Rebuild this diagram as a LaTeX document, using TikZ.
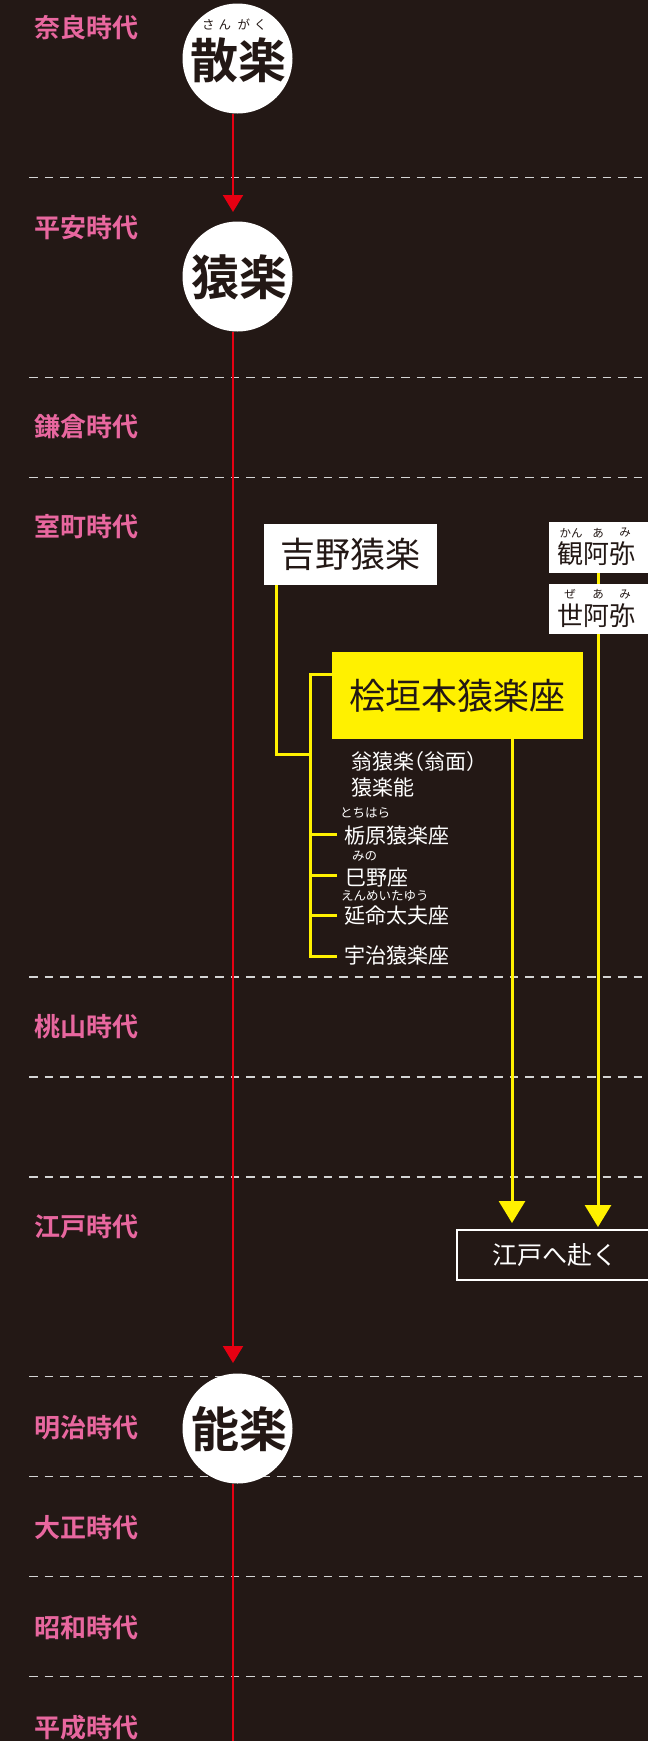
\documentclass[tikz,border=0pt]{standalone}
\usepackage{fontspec}
\setmainfont{Noto Sans CJK JP}[BoldFont={Noto Sans CJK JP Bold}]
\usetikzlibrary{arrows.meta}
\definecolor{bgc}{HTML}{231815}
\definecolor{pinkc}{HTML}{E8679F}
\definecolor{redc}{HTML}{E60012}
\definecolor{yelc}{HTML}{FFF100}
\definecolor{dashc}{HTML}{D4D4D4}
\pgfdeclarelayer{back}
\pgfdeclarelayer{lines}
\pgfsetlayers{back,lines,main}
\begin{document}
\begin{tikzpicture}[x=1pt,y=-1pt,
  era/.style={anchor=west, inner sep=0, text=pinkc, font=\fontsize{26}{30}\selectfont\bfseries},
  sepline/.style={draw=dashc, line width=1.5pt, dash pattern=on 8.5pt off 7pt},
  eracircle/.style={circle, fill=white, minimum size=110pt, inner sep=0},
  bigtext/.style={inner sep=0, text=bgc, font=\fontsize{48}{52}\selectfont\bfseries},
  rubytext/.style={inner sep=0, font=\fontsize{12.5}{14}\selectfont},
  rubysmall/.style={inner sep=0, text=bgc, font=\fontsize{11.5}{13}\selectfont},
  redline/.style={draw=redc, line width=2pt},
  redarrow/.style={redline, -{Triangle[width=20pt,length=17pt]}},
  yline/.style={draw=yelc, line width=3pt},
  yarrow/.style={yline, -{Triangle[width=26pt,length=22pt]}},
  wbox/.style={fill=white, inner sep=0, anchor=north west},
  persontext/.style={anchor=west, inner sep=0, text=bgc, font=\fontsize{26}{30}\selectfont},
  subtext/.style={anchor=west, inner sep=0, text=white, font=\fontsize{21}{24}\selectfont},
  ]
\useasboundingbox (0,0) rectangle (648,1741);
\clip (0,0) rectangle (648,1741);
\begin{pgfonlayer}{back}
\fill[bgc] (0,0) rectangle (648,1741);
\foreach \yy in {177.5,377.5,477.5,977,1077,1177,1376.5,1476.5,1576.5,1676.5}
  \draw[sepline] (29,\yy) -- (652,\yy);
\end{pgfonlayer}

% era labels
\node[era] (e01) at (34,28) {奈良時代};
\node[era] (e02) at (34,228) {平安時代};
\node[era] (e03) at (34,427) {鎌倉時代};
\node[era] (e04) at (34,527) {室町時代};
\node[era] (e05) at (34,1027) {桃山時代};
\node[era] (e06) at (34,1227) {江戸時代};
\node[era] (e07) at (34,1428) {明治時代};
\node[era] (e08) at (34,1528) {大正時代};
\node[era] (e09) at (34,1628) {昭和時代};
\node[era] (e10) at (34,1728) {平成時代};

% circles
\node[eracircle] (c1) at (237.5,58.5) {};
\node[bigtext] (t1) at (238.5,60) {散楽};
\node[rubytext, text=bgc] (r1a) at (216.5,25) {さ\kern4ptん};
\node[rubytext, text=bgc] (r1b) at (252,25) {が\kern4ptく};
\node[eracircle] (c2) at (237.5,276.5) {};
\node[bigtext] (t2) at (239.5,277) {猿楽};
\node[eracircle] (c3) at (237.5,1428.5) {};
\node[bigtext] (t3) at (239.5,1429.5) {能楽};

% red connectors
\coordinate (a1) at (233,212);
\coordinate (a2) at (233,1363);
\coordinate (a3) at (233,1745);
\begin{pgfonlayer}{lines}
\draw[redarrow] (a1 |- c1.south) -- (a1);
\draw[redarrow] (a2 |- c2.south) -- (a2);
\draw[redline] (a3 |- c3.south) -- (a3);
\end{pgfonlayer}

% boxes
\node[wbox, minimum width=173pt, minimum height=61pt, text=bgc,
      font=\fontsize{35}{40}\selectfont] (yoshino) at (264,524) {吉野猿楽};
\node[wbox, minimum width=103pt, minimum height=51pt] (kan) at (549,522) {};
\node[persontext] (kant) at (557.5,554) {観阿弥};
\node[rubysmall] (kr1) at (571,533) {かん};
\node[rubysmall] (kr2) at (598,533) {あ};
\node[rubysmall] (kr3) at (625,533) {み};
\node[wbox, minimum width=103pt, minimum height=50pt] (ze) at (549,584) {};
\node[persontext] (zet) at (557.5,616) {世阿弥};
\node[rubysmall] (zr1) at (570,594.5) {ぜ};
\node[rubysmall] (zr2) at (598,594.5) {あ};
\node[rubysmall] (zr3) at (625,594.5) {み};
\node[fill=yelc, inner sep=0, anchor=north west, minimum width=251pt, minimum height=87pt,
      text=bgc, font=\fontsize{36}{40}\selectfont] (higaki) at (332,652) {桧垣本猿楽座};

% sub-troupes
\node[subtext] (s1) at (351,762) {翁猿楽\kern-0.5em（翁面）};
\node[subtext] (s2) at (351,788) {猿楽能};
\node[subtext] (s3) at (344,836) {栃原猿楽座};
\node[rubytext, text=white, anchor=west] (s3r) at (340,813) {とちはら};
\node[subtext] (s4) at (345,877) {巳野座};
\node[rubytext, text=white, anchor=west] (s4r) at (352,856) {みの};
\node[subtext] (s5) at (344,916) {延命太夫座};
\node[rubytext, text=white, anchor=west] (s5r) at (341,896) {えんめいたゆう};
\node[subtext] (s6) at (344,956) {宇治猿楽座};

% Edo box
\node[draw=white, line width=2pt, fill=bgc, anchor=north west, inner sep=0,
      minimum width=200pt, minimum height=50pt] (edo) at (456,1229) {};
\node[inner sep=0, text=white, font=\fontsize{25}{28}\selectfont] (edot) at (554.5,1255) {江戸へ赴く};

% yellow connectors
\coordinate (yb) at (276,754);
\coordinate (tt) at (310,674);
\coordinate (tb) at (310,956);
\coordinate (b1) at (337,834);
\coordinate (b2) at (337,875);
\coordinate (b3) at (337,915);
\coordinate (b4) at (337,956);
\coordinate (y1) at (512,1223);
\coordinate (y2) at (598,1227);
\begin{pgfonlayer}{lines}
\draw[yline] (yb |- yoshino.south) -- (yb) -- (yb -| tt);
\draw[yline] (higaki.west |- tt) -- (tt) -- (tb) -- (b4);
\draw[yline] (b1 -| tt) -- (b1);
\draw[yline] (b2 -| tt) -- (b2);
\draw[yline] (b3 -| tt) -- (b3);
\draw[yarrow] (y1 |- higaki.south) -- (y1);
\draw[yarrow] (y2 |- kan.south) -- (y2);
\end{pgfonlayer}
\end{tikzpicture}
\end{document}
